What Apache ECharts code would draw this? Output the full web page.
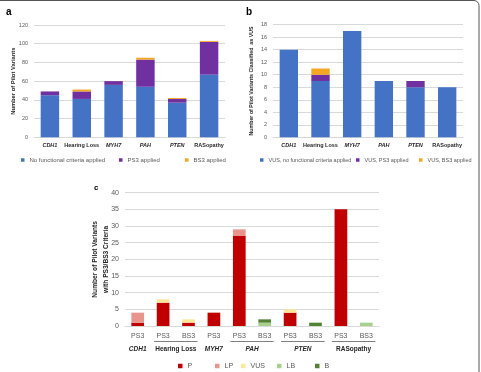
<!DOCTYPE html>
<html><head><meta charset="utf-8">
<script src="https://cdn.jsdelivr.net/npm/echarts@6/dist/echarts.min.js"></script>
<style>html,body{margin:0;padding:0;background:#fff}#c{width:481px;height:372px}</style>
</head><body><div id="c"></div>
<script>
const categories = ['CDH1','Hearing Loss','MYH7','PAH','PTEN','RASopathy'];
const italicCats = ['CDH1','MYH7','PAH','PTEN'];
// Panel a
const aNone = [45,41,56,54,37,67];
const aPS3 = [4,8,4,29,4,35];
const aBS3 = [0,2,0,2,1,1];
// Panel b
const bNone = [14,9,17,9,8,8];
const bPS3 = [0,1,0,0,1,0];
const bBS3 = [0,1,0,0,0,0];
// Panel c
const cSub = ['PS3','PS3','BS3','PS3','PS3','BS3','PS3','BS3','PS3','BS3'];
const cGroups = ['CDH1','Hearing Loss','MYH7','PAH','PTEN','RASopathy'];
const cGroupSpan = [[0,0],[1,2],[3,3],[4,5],[6,7],[8,9]];
const cP   = [1,7,1,4,27,0,4,0,35,0];
const cLP  = [3,0,0,0,2,0,0,0,0,0];
const cVUS = [0,1,1,0,0,0,1,0,0,0];
const cLB  = [0,0,0,0,0,1,0,0,0,1];
const cB   = [0,0,0,0,0,1,0,1,0,0];

const BLUE='#4472C4', PURPLE='#7030A0', ORANGE='#F5A623';
const colP='#C00000', colLP='#E8968B', colVUS='#FFE699', colLB='#A9D18E', colB='#548235';
const gridCol='#D9D9D9', txt='#595959', dark='#262626';
const FF='"Liberation Sans", Arial, sans-serif';
const SF=5.5; // small font for panels a, b

function catFmt(v){ return italicCats.includes(v) ? '{i|'+v+'}' : '{b|'+v+'}'; }
function rich(fs){ return {i:{fontStyle:'italic',fontWeight:'bold',fontSize:fs,color:dark,fontFamily:FF},
                 b:{fontWeight:'bold',fontSize:fs,color:dark,fontFamily:FF}}; }

function yAx(grid,max,interval,name,gap,fs,nfs){
  return {type:'value',gridIndex:grid,min:0,max:max,interval:interval,
    axisLabel:{fontSize:fs,color:txt,fontFamily:FF,margin:6},
    splitLine:{lineStyle:{color:gridCol,width:1}},axisLine:{show:false},axisTick:{show:false},
    name:name,nameLocation:'middle',nameGap:gap,nameMoveOverlap:false,
    nameTextStyle:{fontSize:nfs,fontWeight:'bold',color:dark,fontFamily:FF,lineHeight:nfs*1.6}};
}
function xAx(grid,data,fs){
  return {type:'category',gridIndex:grid,data:data,
    axisLine:{lineStyle:{color:gridCol}},axisTick:{show:false},
    axisLabel:{fontSize:fs,color:txt,fontFamily:FF,margin:5,interval:0,formatter:catFmt,rich:rich(fs)}};
}
function legendOne(name,left,top,color,fs,sz){
  return {data:[{name:name,itemStyle:{color:color}}],left:left,top:top,icon:'rect',itemWidth:sz,itemHeight:sz,itemGap:3,
    padding:0,textStyle:{fontSize:fs,color:txt,fontFamily:FF},selectedMode:false};
}
function bar(name,xi,yi,data,color,bw,stack){
  return {name:name,type:'bar',xAxisIndex:xi,yAxisIndex:yi,stack:stack,data:data,barWidth:bw,
    itemStyle:{color:color},silent:true};
}

const chart = echarts.init(document.getElementById('c'),null,{renderer:'canvas'});
const option = {
  animation:false,
  textStyle:{fontFamily:FF},
  grid:[
    {left:34,right:256,top:25,bottom:234.7},
    {left:273,right:18,top:24.7,bottom:234.7},
    {left:125,right:102,top:192.7,bottom:46}
  ],
  xAxis:[
    xAx(0,categories,SF),
    xAx(1,categories,SF),
    {type:'category',gridIndex:2,data:cSub,axisLine:{lineStyle:{color:gridCol}},axisTick:{show:false},
     axisLabel:{fontSize:7,color:txt,fontFamily:FF,margin:7,interval:0}}
  ],
  yAxis:[
    yAx(0,120,20,'Number of Pilot Variants',16,SF,5.8),
    yAx(1,18,2,'Number of Pilot Variants Classified  as VUS',17,SF,5.3),
    yAx(2,40,5,'Number of Pilot Variants\nwith PS3/BS3 Criteria',14,7,6.6)
  ],
  legend:[
    legendOne('No functional criteria applied',21,157,BLUE,6,3.5),
    legendOne('PS3 applied',119,157,PURPLE,6,3.5),
    legendOne('BS3 applied',185,157,ORANGE,6,3.5),
    legendOne('VUS, no functional criteria applied',260,157,BLUE,5.5,3.5),
    legendOne('VUS, PS3 applied',356,157,PURPLE,5.5,3.5),
    legendOne('VUS, BS3 applied',419,157,ORANGE,5.5,3.5),
    legendOne('P',178,362.5,colP,7,4.5),
    legendOne('LP',215,362.5,colLP,7,4.5),
    legendOne('VUS',241,362.5,colVUS,7,4.5),
    legendOne('LB',277,362.5,colLB,7,4.5),
    legendOne('B',315,362.5,colB,7,4.5)
  ],
  series:[
    bar('No functional criteria applied',0,0,aNone,BLUE,'58%','a'),
    bar('PS3 applied',0,0,aPS3,PURPLE,'58%','a'),
    bar('BS3 applied',0,0,aBS3,ORANGE,'58%','a'),
    bar('VUS, no functional criteria applied',1,1,bNone,BLUE,'58%','b'),
    bar('VUS, PS3 applied',1,1,bPS3,PURPLE,'58%','b'),
    bar('VUS, BS3 applied',1,1,bBS3,ORANGE,'58%','b'),
    bar('P',2,2,cP,colP,'50%','c'),
    bar('LP',2,2,cLP,colLP,'50%','c'),
    bar('VUS',2,2,cVUS,colVUS,'50%','c'),
    bar('LB',2,2,cLB,colLB,'50%','c'),
    bar('B',2,2,cB,colB,'50%','c')
  ]
};
chart.setOption(option);

// group labels & underlines for panel c, positioned via the axis scale
const g = [];
const labelY = 349.5, lineY = 341.5;
cGroupSpan.forEach((sp,i)=>{
  const x0 = chart.convertToPixel({xAxisIndex:2},sp[0]);
  const x1 = chart.convertToPixel({xAxisIndex:2},sp[1]);
  const cx = (x0+x1)/2;
  const nm = cGroups[i];
  g.push({type:'text',x:cx,y:labelY,style:{text:nm,fontSize:6.5,fontWeight:'bold',
    fontStyle: italicCats.includes(nm)?'italic':'normal',fill:dark,fontFamily:FF,
    textAlign:'center',textVerticalAlign:'middle'}});
  if (sp[1]>sp[0]) {
    g.push({type:'line',shape:{x1:x0-9,y1:lineY,x2:x1+9,y2:lineY},style:{stroke:'#7F7F7F',lineWidth:1}});
  }
});
g.push({type:'text',x:6,y:12,style:{text:'a',fontSize:10,fontWeight:'bold',fill:'#000',fontFamily:FF,textVerticalAlign:'middle'}});
g.push({type:'text',x:246,y:12,style:{text:'b',fontSize:10,fontWeight:'bold',fill:'#000',fontFamily:FF,textVerticalAlign:'middle'}});
g.push({type:'text',x:94,y:188,style:{text:'c',fontSize:8,fontWeight:'bold',fill:'#000',fontFamily:FF,textVerticalAlign:'middle'}});
g.push({type:'rect',shape:{x:-10,y:0.5,width:489,height:420,r:5},style:{fill:'none',stroke:'#555',lineWidth:1}});
chart.setOption({graphic:g});
</script></body></html>
